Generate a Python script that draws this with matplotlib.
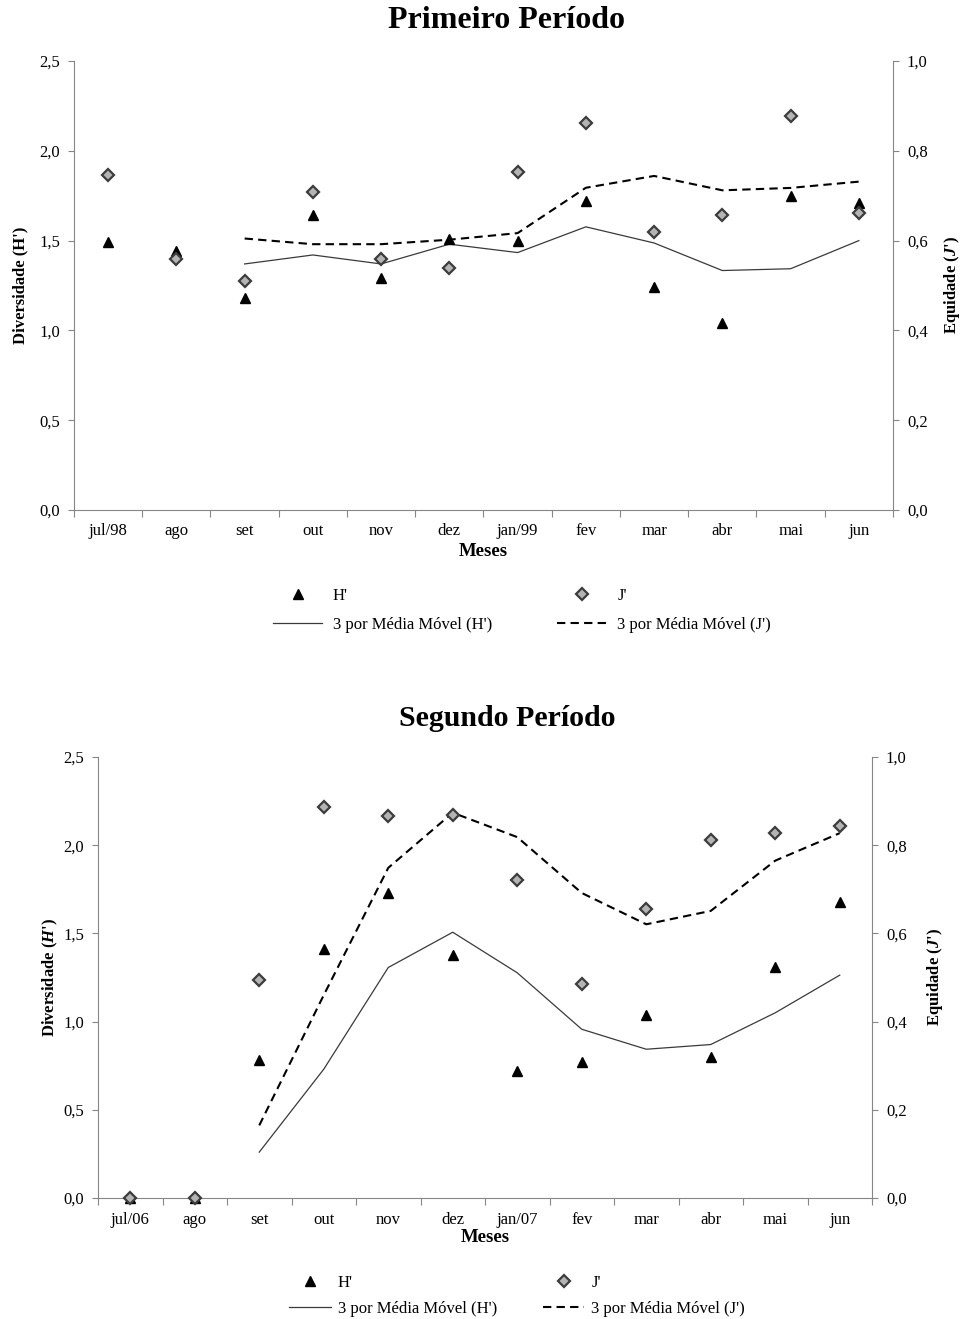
import numpy as np
import pandas as pd
import matplotlib
matplotlib.use('Agg')
import matplotlib.pyplot as plt
from matplotlib.lines import Line2D
from matplotlib.ticker import FuncFormatter, MultipleLocator

plt.rcParams['font.family'] = ['Liberation Serif', 'DejaVu Serif']
plt.rcParams['mathtext.fontset'] = 'custom'
plt.rcParams['mathtext.it'] = 'Liberation Serif:bold:italic'
plt.rcParams['mathtext.rm'] = 'Liberation Serif'

# Primeiro período (jul/98 - jun/99)
meses_1 = ['jul/98', 'ago', 'set', 'out', 'nov', 'dez', 'jan/99', 'fev', 'mar', 'abr', 'mai', 'jun']
h_1 = [1.49, 1.44, 1.18, 1.64, 1.29, 1.51, 1.50, 1.72, 1.24, 1.04, 1.75, 1.71]
j_1 = [0.746, 0.558, 0.510, 0.708, 0.558, 0.540, 0.752, 0.861, 0.619, 0.656, 0.877, 0.661]

# Segundo período (jul/06 - jun/07)
meses_2 = ['jul/06', 'ago', 'set', 'out', 'nov', 'dez', 'jan/07', 'fev', 'mar', 'abr', 'mai', 'jun']
h_2 = [0.0, 0.0, 0.78, 1.41, 1.73, 1.38, 0.72, 0.77, 1.04, 0.80, 1.31, 1.68]
j_2 = [0.0, 0.0, 0.494, 0.886, 0.866, 0.869, 0.720, 0.486, 0.656, 0.811, 0.828, 0.843]

AXIS_GRAY = '#868686'
DIAMOND_FILL = '#b4b4b4'
DIAMOND_EDGE = '#3c3c3c'


def virgula(v, pos):
    return f'{v:.1f}'.replace('.', ',')


def draw_panel(fig, rect, meses, h, j, titulo, ylab_h, ylab_j, title_y, title_size,
               leg_anchor, leg_opts, xpad, xlabpad, ylabpad):
    ax = fig.add_axes(rect)
    ax2 = ax.twinx()
    x = np.arange(len(meses))

    # média móvel de 3 períodos (linha de tendência)
    mm_h = pd.Series(h).rolling(3).mean()
    mm_j = pd.Series(j).rolling(3).mean()

    ax.plot(x, mm_h, color='#3a3a3a', lw=0.9)
    ax2.plot(x, mm_j, color='black', lw=1.5, ls=(0, (4, 2.5)))
    ax.plot(x, h, ls='none', marker='^', ms=7.5, color='black', clip_on=False, zorder=3)
    ax2.plot(x, j, ls='none', marker='D', ms=6.5, mfc=DIAMOND_FILL, mec=DIAMOND_EDGE,
             mew=1.6, clip_on=False, zorder=4)

    ax.set_xlim(-0.5, len(meses) - 0.5)
    ax.set_ylim(0, 2.5)
    ax2.set_ylim(0, 1.0)
    ax.yaxis.set_major_locator(MultipleLocator(0.5))
    ax2.yaxis.set_major_locator(MultipleLocator(0.2))
    ax.yaxis.set_major_formatter(FuncFormatter(virgula))
    ax2.yaxis.set_major_formatter(FuncFormatter(virgula))

    # ticks nas divisões, rótulos no centro de cada mês
    ax.set_xticks(np.arange(-0.5, len(meses)), labels=[])
    ax.set_xticks(x, labels=meses, minor=True)
    ax.tick_params(axis='x', which='major', length=5, color=AXIS_GRAY, direction='out')
    ax.tick_params(axis='x', which='minor', length=0, labelsize=12, pad=xpad)
    ax.tick_params(axis='y', length=4, color=AXIS_GRAY, labelsize=12, pad=6)
    ax2.tick_params(axis='y', length=4, color=AXIS_GRAY, labelsize=12, pad=6)

    for a in (ax, ax2):
        a.spines['top'].set_visible(False)
        for s in ('left', 'right', 'bottom'):
            a.spines[s].set_color(AXIS_GRAY)
    ax.spines['right'].set_visible(False)
    ax2.spines['left'].set_visible(False)
    ax2.spines['bottom'].set_visible(False)

    ax.set_xlabel('Meses', fontsize=13.5, fontweight='bold', labelpad=xlabpad)
    ax.set_ylabel(ylab_h, fontsize=12, fontweight='bold', labelpad=ylabpad[0])
    ax2.set_ylabel(ylab_j, fontsize=12, fontweight='bold', labelpad=ylabpad[1])

    fig.text(0.527, title_y, titulo, ha='center', va='center',
             fontsize=title_size, fontweight='bold')

    handles = [
        Line2D([], [], ls='none', marker='^', ms=7.5, color='black'),
        Line2D([], [], color='#3a3a3a', lw=0.9),
        Line2D([], [], ls='none', marker='D', ms=6.5, mfc=DIAMOND_FILL, mec=DIAMOND_EDGE, mew=1.6),
        Line2D([], [], color='black', lw=1.5, ls=(0, (4, 2.5))),
    ]
    labels = ["H'", "3 por Média Móvel (H')", "J'", "3 por Média Móvel (J')"]
    fig.legend(handles, labels, ncol=2, loc='upper left', bbox_to_anchor=leg_anchor,
               frameon=False, fontsize=12, **leg_opts)
    return ax, ax2


fig = plt.figure(figsize=(9.62, 13.19), dpi=100)

draw_panel(fig, [74 / 962, 1 - 510 / 1319, 819 / 962, 449 / 1319],
           meses_1, h_1, j_1, 'Primeiro Período',
           "Diversidade (H')", r"Equidade ($\mathit{J}$')",
           1 - 21 / 1319, 23,
           (258 / 962, 1 - 573 / 1319),
           dict(handlelength=2.95, handletextpad=0.65, columnspacing=3.9, labelspacing=0.8),
           9, 3, (8, 10))

draw_panel(fig, [98 / 962, 1 - 1198 / 1319, 774 / 962, 441 / 1319],
           meses_2, h_2, j_2, 'Segundo Período',
           r"Diversidade ($\mathit{H}$')", r"Equidade ($\mathit{J}$')",
           1 - 719 / 1319, 21.5,
           (274 / 962, 1 - 1260 / 1319),
           dict(handlelength=2.5, handletextpad=0.42, columnspacing=2.75, labelspacing=0.6),
           10, 1, (2, 13))

fig.savefig('out.png', dpi=100)
